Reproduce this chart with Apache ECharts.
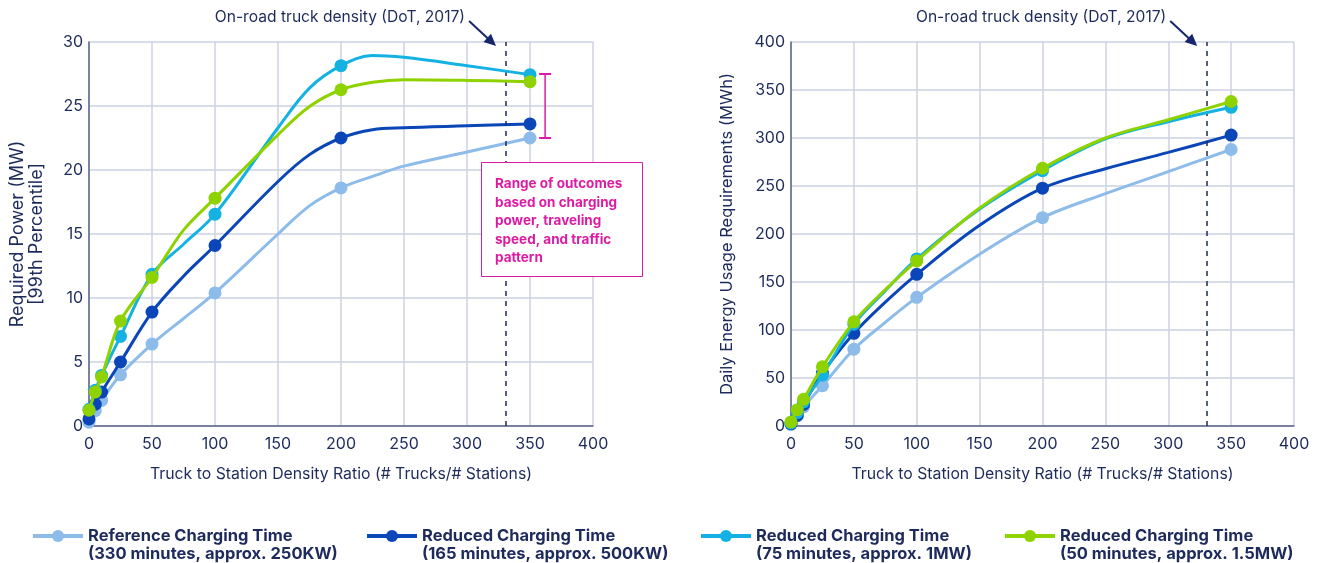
<!DOCTYPE html>
<html>
<head>
<meta charset="utf-8">
<script src="https://cdn.jsdelivr.net/npm/echarts@6/dist/echarts.min.js"></script>
<style>
html,body{margin:0;padding:0;background:#fff;}
#c{width:1319px;height:563px;}
</style>
</head>
<body>
<div id="c"></div>
<script>
// ---- data ----
const seriesNames = [
  'Reference Charging Time (330 minutes, approx. 250KW)',
  'Reduced Charging Time (165 minutes, approx. 500KW)',
  'Reduced Charging Time (75 minutes, approx. 1MW)',
  'Reduced Charging Time (50 minutes, approx. 1.5MW)'
];
const legendLines = [
  ['Reference Charging Time', '(330 minutes, approx. 250KW)'],
  ['Reduced Charging Time', '(165 minutes, approx. 500KW)'],
  ['Reduced Charging Time', '(75 minutes, approx. 1MW)'],
  ['Reduced Charging Time', '(50 minutes, approx. 1.5MW)']
];
const markerX = [0, 5, 10, 25, 50, 100, 200, 350];

const powerX      = [0, 5, 10, 25, 50, 75, 100, 150, 175, 200, 225, 250, 300, 350];
const powerRef    = [0.3, 1.2, 2.0, 4.0, 6.4, 8.4, 10.4, 15.0, 17.2, 18.6, 19.5, 20.3, 21.4, 22.5];
const power165    = [0.55, 1.7, 2.65, 5.0, 8.9, 11.7, 14.1, 19.1, 21.2, 22.5, 23.15, 23.3, 23.45, 23.6];
const power75     = [1.3, 2.8, 3.95, 7.0, 11.85, 14.2, 16.55, 23.3, 26.4, 28.15, 28.95, 28.8, 28.15, 27.45];
const power50     = [1.23, 2.66, 3.83, 8.2, 11.6, 15.3, 17.8, 22.75, 24.96, 26.27, 26.85, 27.05, 27.0, 26.9];

const energyX     = [0, 5, 10, 25, 50, 75, 100, 150, 200, 250, 300, 350];
const energyRef   = [2.5, 11, 20, 42, 80, 108, 134, 179, 217, 242, 265, 288];
const energy165   = [2, 11, 22.5, 55, 96.5, 129, 158, 209, 247.7, 268, 285, 303];
const energy75    = [3, 14, 25, 53, 106, 141, 174, 226, 266, 299, 317, 332];
const energy50    = [4.2, 17, 27.8, 61.6, 108.5, 142, 172, 227, 268.5, 300, 319, 338];

const dotDensity = 331;
const rangeLow = 22.5, rangeHigh = 27.5, rangeX = 362;

const xTicks = {min: 0, max: 400, interval: 50};
const powerTicks = {min: 0, max: 30, interval: 5};
const energyTicks = {min: 0, max: 400, interval: 50};

// ---- style ----
const colors = ['#8dbbea', '#0a46b8', '#14b2e2', '#8ed200'];
const navy = '#1d2a5c';
const magenta = '#dd1aa3';
const gridColor = '#cdd2e2';
const FONT = 'Inter, "Noto Sans", sans-serif';

function buildData(xs, ys) {
  return xs.map((x, i) => ({
    value: [x, ys[i]],
    symbol: markerX.includes(x) ? 'circle' : 'none'
  }));
}

const chart = echarts.init(document.getElementById('c'));

function xAxisCfg(gi) {
  return {
    type: 'value', gridIndex: gi, min: xTicks.min, max: xTicks.max, interval: xTicks.interval,
    name: 'Truck to Station Density Ratio (# Trucks/# Stations)',
    nameLocation: 'middle', nameGap: 40,
    nameTextStyle: {color: navy, fontSize: 15.8, fontFamily: FONT},
    axisLine: {show: true, lineStyle: {color: '#5b6386', width: 1.5}},
    axisTick: {show: false},
    axisLabel: {color: navy, fontSize: 16, fontFamily: FONT, margin: 10},
    splitLine: {show: true, lineStyle: {color: gridColor, width: 1.5}}
  };
}
function yAxisCfg(gi, ticks, name, gap, fs) {
  return {
    type: 'value', gridIndex: gi, min: ticks.min, max: ticks.max, interval: ticks.interval,
    name: name, nameLocation: 'middle', nameGap: gap, nameRotate: 90,
    nameTextStyle: {color: navy, fontSize: fs, fontFamily: FONT, lineHeight: 19},
    axisLine: {show: true, lineStyle: {color: '#5b6386', width: 1.5}},
    axisTick: {show: false},
    axisLabel: {color: navy, fontSize: 16, fontFamily: FONT, margin: 6},
    splitLine: {show: true, lineStyle: {color: gridColor, width: 1.5}}
  };
}

const powerSets = [powerRef, power165, power75, power50];
const energySets = [energyRef, energy165, energy75, energy50];

const series = [];
function addSeries(sets, xs, axisIdx) {
  sets.forEach((ys, i) => {
    series.push({
      name: seriesNames[i], type: 'line', xAxisIndex: axisIdx, yAxisIndex: axisIdx,
      data: buildData(xs, ys), smooth: 0.35, symbol: 'circle', symbolSize: 13,
      lineStyle: {color: colors[i], width: 3}, itemStyle: {color: colors[i]},
      z: 3 + i,
      markLine: i === 0 ? {
        silent: true, symbol: 'none', label: {show: false},
        lineStyle: {color: navy, type: [5, 5], width: 1.5},
        data: [{xAxis: dotDensity}]
      } : undefined
    });
  });
}
addSeries(powerSets, powerX, 0);
addSeries(energySets, energyX, 1);

const legendLeft = [31, 365, 699, 1003];
const legends = seriesNames.map((n, i) => ({
  data: [n], left: legendLeft[i], top: 509, padding: 0, orient: 'horizontal',
  itemWidth: 50, itemHeight: 15, selectedMode: false,
  itemStyle: {color: colors[i]},
  lineStyle: {color: colors[i], width: 4},
  formatter: () => ' \n' + legendLines[i].join('\n'),
  textStyle: {color: navy, fontSize: 16.5, fontWeight: 'bold', fontFamily: FONT, lineHeight: 18}
}));

chart.setOption({
  animation: false,
  backgroundColor: '#ffffff',
  grid: [
    {left: 89, right: 726, top: 42, bottom: 137},
    {left: 791, right: 25, top: 42, bottom: 137}
  ],
  xAxis: [xAxisCfg(0), xAxisCfg(1)],
  yAxis: [
    yAxisCfg(0, powerTicks, 'Required Power (MW)\n[99th Percentile]', 43, 18),
    yAxisCfg(1, energyTicks, 'Daily Energy Usage Requirements (MWh)', 54, 16.5)
  ],
  legend: legends,
  series: series
});

// ---- annotations positioned via axis conversion ----
const graphics = [];
[0, 1].forEach(gi => {
  const px = chart.convertToPixel({gridIndex: gi}, [dotDensity, 0])[0];
  graphics.push({
    type: 'text', x: px - 41, y: 17,
    style: {text: 'On-road truck density (DoT, 2017)', fill: navy, fontSize: 15.6, fontFamily: FONT,
            align: 'right', verticalAlign: 'middle'}
  });
  const x1 = px - 37, y1 = 21, x2 = px - 10, y2 = 46;
  const ang = Math.atan2(y2 - y1, x2 - x1);
  graphics.push({type: 'line', shape: {x1: x1, y1: y1, x2: x2 - 6 * Math.cos(ang), y2: y2 - 6 * Math.sin(ang)},
                 style: {stroke: '#15266a', lineWidth: 2}});
  const L = 12, W = 5.5;
  const bx = x2 - L * Math.cos(ang), by = y2 - L * Math.sin(ang);
  graphics.push({type: 'polygon', shape: {points: [
    [x2, y2],
    [bx + W * Math.sin(ang), by - W * Math.cos(ang)],
    [bx - W * Math.sin(ang), by + W * Math.cos(ang)]
  ]}, style: {fill: '#15266a'}});
});
// range bracket
const pTop = chart.convertToPixel({gridIndex: 0}, [rangeX, rangeHigh]);
const pBot = chart.convertToPixel({gridIndex: 0}, [rangeX, rangeLow]);
graphics.push({type: 'line', shape: {x1: pTop[0], y1: pTop[1], x2: pBot[0], y2: pBot[1]}, style: {stroke: magenta, lineWidth: 1.5}});
graphics.push({type: 'line', shape: {x1: pTop[0] - 6, y1: pTop[1], x2: pTop[0] + 6, y2: pTop[1]}, style: {stroke: magenta, lineWidth: 2}});
graphics.push({type: 'line', shape: {x1: pBot[0] - 6, y1: pBot[1], x2: pBot[0] + 6, y2: pBot[1]}, style: {stroke: magenta, lineWidth: 2}});
// range box
graphics.push({type: 'rect', shape: {x: 481.5, y: 162.5, width: 161, height: 114},
               style: {fill: '#ffffff', stroke: magenta, lineWidth: 1}, z: 100});
graphics.push({type: 'text', left: 495, top: 175, z: 101,
  style: {text: 'Range of outcomes\nbased on charging\npower, traveling\nspeed, and traffic\npattern',
          fill: magenta, fontSize: 13.5, fontWeight: 'bold', fontFamily: FONT, lineHeight: 18.5}});

chart.setOption({graphic: graphics});
</script>
</body>
</html>
